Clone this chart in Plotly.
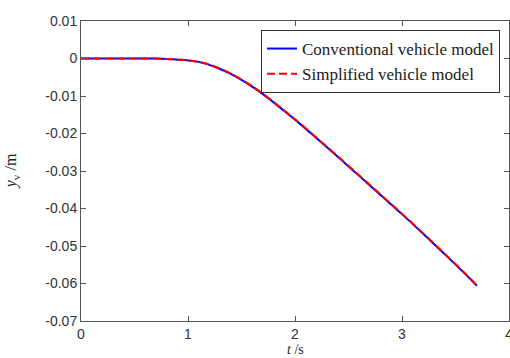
import plotly.graph_objects as go

# Lateral displacement of the vehicle over time
t = [0.0, 0.3, 0.5, 0.7, 0.8, 0.9, 1.0, 1.1, 1.2, 1.3, 1.4, 1.5, 1.6, 1.7, 1.8,
     1.9, 2.0, 2.2, 2.4, 2.6, 2.8, 3.0, 3.2, 3.4, 3.6, 3.7]
y_conventional = [0.0, 0.0, 0.0, 0.0, -0.0001, -0.0003, -0.0005, -0.0009, -0.0017,
                  -0.0028, -0.0041, -0.0057, -0.0075, -0.0095, -0.0117, -0.0140,
                  -0.0163, -0.0212, -0.0262, -0.0313, -0.0364, -0.0415, -0.0468,
                  -0.0522, -0.0577, -0.0606]
y_simplified = [0.0, 0.0, 0.0, 0.0, -0.0001, -0.0003, -0.0005, -0.0009, -0.0016,
                -0.0027, -0.0040, -0.0056, -0.0074, -0.0094, -0.0116, -0.0139,
                -0.0162, -0.0211, -0.0261, -0.0312, -0.0363, -0.0414, -0.0467,
                -0.0521, -0.0576, -0.0605]

x_ticks = [0, 1, 2, 3, 4]
y_ticks = [0.01, 0, -0.01, -0.02, -0.03, -0.04, -0.05, -0.06, -0.07]
y_tick_text = ["0.01", "0", "-0.01", "-0.02", "-0.03", "-0.04", "-0.05", "-0.06", "-0.07"]

fig = go.Figure()
fig.add_trace(go.Scatter(
    x=t, y=y_conventional, mode="lines", name="Conventional vehicle model",
    line=dict(color="#0000FF", width=2, shape="spline"),
))
fig.add_trace(go.Scatter(
    x=t, y=y_simplified, mode="lines", name="Simplified vehicle model",
    line=dict(color="#FF0000", width=2, dash="8px,4px", shape="spline"),
))

axis_common = dict(
    showgrid=False, zeroline=False, showline=True, linecolor="#555555", linewidth=1,
    mirror="ticks", ticks="inside", ticklen=5, tickcolor="#555555",
    ticklabeloverflow="allow", automargin=False,
    tickfont=dict(family="Liberation Sans, Arial, sans-serif", size=14, color="#333333"),
)

fig.update_xaxes(range=[0, 4], tickvals=x_ticks, ticktext=[str(v) for v in x_ticks],
                 **axis_common)
fig.update_yaxes(range=[-0.07, 0.01], tickvals=y_ticks, ticktext=y_tick_text,
                 **axis_common)

serif = "Liberation Serif, Times New Roman, serif"

fig.update_layout(
    width=510, height=358,
    margin=dict(l=81, r=1, t=21, b=37),
    paper_bgcolor="white", plot_bgcolor="white",
    showlegend=True,
    legend=dict(
        x=0.979, y=0.97, xanchor="right", yanchor="top",
        bgcolor="white", bordercolor="#333333", borderwidth=1,
        font=dict(family=serif, size=17, color="#222222"),
        tracegroupgap=0,
    ),
    annotations=[
        dict(text="<i>t</i> /s", xref="paper", yref="paper", x=0.5, y=-0.126,
             xanchor="center", yanchor="bottom", showarrow=False,
             font=dict(family=serif, size=14, color="#222222")),
        dict(text="<i>y</i><sub>v</sub> /m", xref="paper", yref="paper", x=-0.163, y=0.5,
             xanchor="center", yanchor="middle", showarrow=False, textangle=-90,
             font=dict(family=serif, size=16, color="#222222")),
    ],
)

fig.write_html("out.html")
